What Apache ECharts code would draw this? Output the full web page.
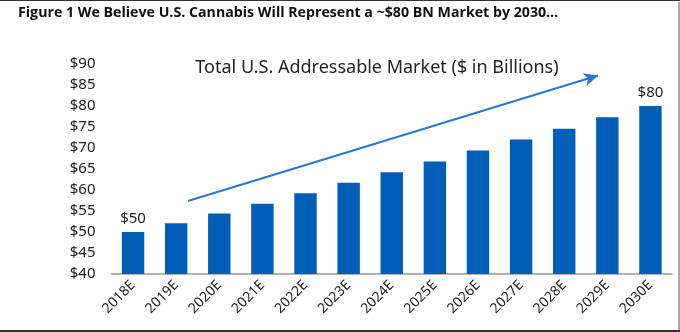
<!DOCTYPE html>
<html>
<head>
<meta charset="utf-8">
<script src="https://cdn.jsdelivr.net/npm/echarts@6/dist/echarts.min.js"></script>
<style>
  html, body { margin: 0; padding: 0; background: #fff; }
  #chart { width: 680px; height: 332px; }
</style>
</head>
<body>
<div id="chart"></div>
<script>
// U.S. cannabis addressable market, $ billions
const years = ['2018E', '2019E', '2020E', '2021E', '2022E', '2023E', '2024E',
               '2025E', '2026E', '2027E', '2028E', '2029E', '2030E'];
const marketSize = [50, 52.1, 54.4, 56.7, 59.2, 61.7, 64.2, 66.8, 69.4, 72.0, 74.6, 77.3, 80];
// only the first and last bars carry a value label
const labelledYears = ['2018E', '2030E'];

const FONT = '"Noto Sans", "Open Sans", sans-serif';
const BAR = '#005EB8';
const ARROW = '#2C78C4';

const chart = echarts.init(document.getElementById('chart'), null, { renderer: 'canvas' });

const gridLeft = 111.5, gridRight = 8, gridTop = 64, gridBottom = 58;

chart.setOption({
  animation: false,
  backgroundColor: '#fff',
  title: [{
    text: 'Figure 1 We Believe U.S. Cannabis Will Represent a ~$80 BN Market by 2030\u2026',
    left: 13, top: 1,
    textStyle: { fontFamily: '"Open Sans", sans-serif', fontWeight: 'bold', fontSize: 14.2, color: '#111' }
  }, {
    text: 'Total U.S. Addressable Market ($ in Billions)',
    left: 372, top: 54, textAlign: 'center',
    textStyle: { fontFamily: FONT, fontWeight: 'normal', fontSize: 18, color: '#222' }
  }],
  grid: { left: gridLeft, right: gridRight, top: gridTop, bottom: gridBottom, containLabel: false },
  xAxis: {
    type: 'category',
    data: years,
    axisLine: { lineStyle: { color: '#9a9a9a', width: 1.5 } },
    axisTick: { show: false },
    axisLabel: { rotate: 45, margin: 9, fontFamily: FONT, fontSize: 14, color: '#222', interval: 0 }
  },
  yAxis: {
    type: 'value',
    min: 40, max: 90, interval: 5,
    axisLine: { show: false },
    axisTick: { show: false },
    splitLine: { show: false },
    axisLabel: { formatter: v => '$' + v, margin: 16, fontFamily: FONT, fontSize: 15, color: '#222' }
  },
  series: [{
    type: 'bar',
    data: marketSize.map((v, i) => ({
      value: v,
      label: { show: labelledYears.includes(years[i]) }
    })),
    barWidth: '52%',
    itemStyle: { color: BAR },
    label: {
      position: 'top', distance: 6,
      formatter: p => '$' + Math.round(p.value),
      fontFamily: FONT, fontSize: 15, color: '#222'
    },
    markLine: {
      silent: true,
      symbol: ['none', 'arrow'],
      symbolSize: [10, 14],
      label: { show: false },
      lineStyle: { color: ARROW, width: 2, type: 'solid' },
      data: [[{ x: 188, y: 201 }, { x: 598, y: 75.5 }]]
    }
  }],
  graphic: [
    { type: 'rect', shape: { x: 0, y: 0, width: 680, height: 1 }, style: { fill: '#333' } },
    { type: 'rect', shape: { x: 678, y: 2, width: 2, height: 330 }, style: { fill: '#aaa' } },
    { type: 'rect', shape: { x: 0, y: 330, width: 680, height: 2 }, style: { fill: '#333' } }
  ]
});
</script>
</body>
</html>
